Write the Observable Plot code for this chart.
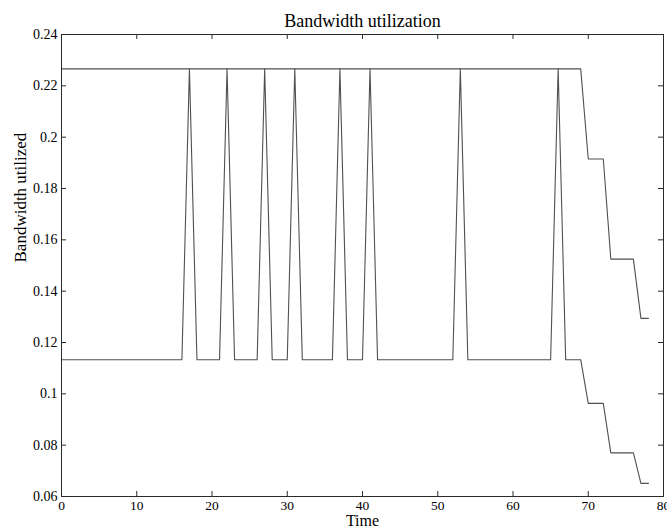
<!DOCTYPE html>
<html><head><meta charset="utf-8">
<script src="https://cdn.jsdelivr.net/npm/d3@7"></script>
<script src="https://cdn.jsdelivr.net/npm/@observablehq/plot@0.6"></script>
<style>body{margin:0;background:#fff} svg{display:block}</style>
</head><body><div id="chart"></div>
<script>
const time = [0,1,2,3,4,5,6,7,8,9,
  10,11,12,13,14,15,16,17,18,19,
  20,21,22,23,24,25,26,27,28,29,
  30,31,32,33,34,35,36,37,38,39,
  40,41,42,43,44,45,46,47,48,49,
  50,51,52,53,54,55,56,57,58,59,
  60,61,62,63,64,65,66,67,68,69,
  70,71,72,73,74,75,76,77,78];
const upper = [0.2266,0.2266,0.2266,0.2266,0.2266,0.2266,0.2266,0.2266,0.2266,0.2266,
  0.2266,0.2266,0.2266,0.2266,0.2266,0.2266,0.2266,0.2266,0.2266,0.2266,
  0.2266,0.2266,0.2266,0.2266,0.2266,0.2266,0.2266,0.2266,0.2266,0.2266,
  0.2266,0.2266,0.2266,0.2266,0.2266,0.2266,0.2266,0.2266,0.2266,0.2266,
  0.2266,0.2266,0.2266,0.2266,0.2266,0.2266,0.2266,0.2266,0.2266,0.2266,
  0.2266,0.2266,0.2266,0.2266,0.2266,0.2266,0.2266,0.2266,0.2266,0.2266,
  0.2266,0.2266,0.2266,0.2266,0.2266,0.2266,0.2266,0.2266,0.2266,0.2266,
  0.1915,0.1915,0.1915,0.1525,0.1525,0.1525,0.1525,0.1294,0.1294];
const lower = [0.1133,0.1133,0.1133,0.1133,0.1133,0.1133,0.1133,0.1133,0.1133,0.1133,
  0.1133,0.1133,0.1133,0.1133,0.1133,0.1133,0.1133,0.2266,0.1133,0.1133,
  0.1133,0.1133,0.2266,0.1133,0.1133,0.1133,0.1133,0.2266,0.1133,0.1133,
  0.1133,0.2266,0.1133,0.1133,0.1133,0.1133,0.1133,0.2266,0.1133,0.1133,
  0.1133,0.2266,0.1133,0.1133,0.1133,0.1133,0.1133,0.1133,0.1133,0.1133,
  0.1133,0.1133,0.1133,0.2266,0.1133,0.1133,0.1133,0.1133,0.1133,0.1133,
  0.1133,0.1133,0.1133,0.1133,0.1133,0.1133,0.2266,0.1133,0.1133,0.1133,
  0.0963,0.0963,0.0963,0.0770,0.0770,0.0770,0.0770,0.0651,0.0651];
const xTicks = [0,10,20,30,40,50,60,70,80];
const yTicks = [0.06,0.08,0.1,0.12,0.14,0.16,0.18,0.2,0.22,0.24];
const yTickLabels = ["0.06","0.08","0.1","0.12","0.14","0.16","0.18","0.2","0.22","0.24"];
const title = "Bandwidth utilization";
const xLabel = "Time";
const yLabel = "Bandwidth utilized";

const W = 667, H = 529, mL = 61, mR = 4, mT = 34, mB = 33;
const pw = W - mL - mR, ph = H - mT - mB;
const rows = time.flatMap((t, i) => [
  {t, v: upper[i], s: "upper"},
  {t, v: lower[i], s: "lower"}
]);
const ink = "#2a2a2a";

const chart = Plot.plot({
  width: W, height: H,
  marginLeft: mL, marginRight: mR, marginTop: mT, marginBottom: mB,
  style: {fontFamily: "'Liberation Serif', 'DejaVu Serif', serif", fontSize: "14px", background: "#fff", color: "#000"},
  x: {domain: [0, 80]},
  y: {domain: [0.06, 0.24]},
  marks: [
    Plot.axisX(xTicks, {tickSize: 0, tickPadding: 4, label: null, fontSize: 13.5}),
    Plot.axisY(yTicks, {tickSize: 0, tickPadding: 4, label: null, fontSize: 14,
      tickFormat: d => yTickLabels[yTicks.indexOf(d)]}),
    Plot.tickX(xTicks, {x: d => d, insetTop: ph - 5, stroke: ink}),
    Plot.tickX(xTicks, {x: d => d, insetBottom: ph - 5, stroke: ink}),
    Plot.tickY(yTicks, {y: d => d, insetRight: pw - 5, stroke: ink}),
    Plot.tickY(yTicks, {y: d => d, insetLeft: pw - 5, stroke: ink}),
    Plot.line(rows, {x: "t", y: "v", z: "s", stroke: "#505050", strokeWidth: 1.1}),
    Plot.frame({stroke: ink}),
    Plot.text([title], {text: d => d, frameAnchor: "top", dy: -8, lineAnchor: "bottom", fontSize: 18, fill: "#000"}),
    Plot.text([xLabel], {text: d => d, frameAnchor: "bottom", dy: 29, lineAnchor: "bottom", fontSize: 16, fill: "#000"}),
    Plot.text([yLabel], {text: d => d, frameAnchor: "left", dx: -41, dy: -3, rotate: -90, fontSize: 17, fill: "#000"})
  ]
});
document.getElementById("chart").appendChild(chart);
</script>
</body></html>
